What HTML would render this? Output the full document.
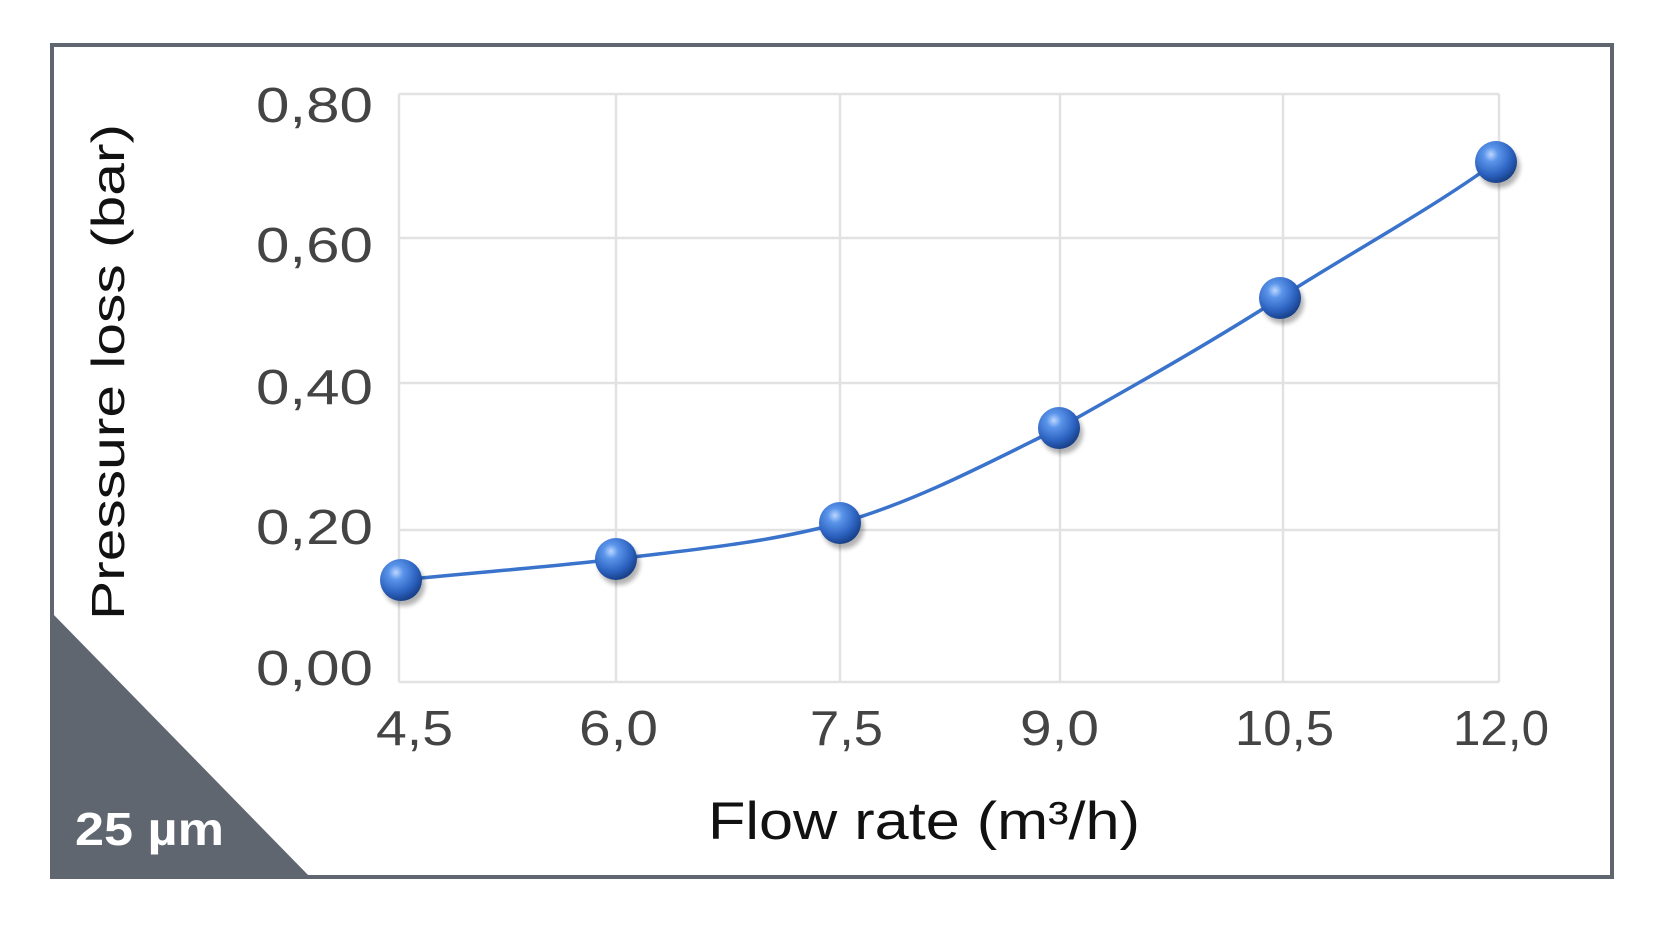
<!DOCTYPE html>
<html><head><meta charset="utf-8"><style>
html,body{margin:0;padding:0;background:#fff;}
svg{display:block}
</style></head><body>
<svg width="1667" height="943" viewBox="0 0 1667 943" xmlns="http://www.w3.org/2000/svg">
<defs>
<radialGradient id="ball" cx="0.38" cy="0.32" r="0.7">
<stop offset="0" stop-color="#bcd6ff"/>
<stop offset="0.25" stop-color="#5b95ea"/>
<stop offset="0.7" stop-color="#2c62c0"/>
<stop offset="1" stop-color="#173f86"/>
</radialGradient>
<filter id="sh" x="-50%" y="-50%" width="200%" height="200%"><feGaussianBlur stdDeviation="2.5"/></filter>
</defs>
<rect x="0" y="0" width="1667" height="943" fill="#fff"/>
<rect x="52" y="45" width="1560" height="832" fill="#fff" stroke="#5f6670" stroke-width="4"/>
<polygon points="52,613 52,877 310,877" fill="#5f6670"/>
<g stroke="#e2e2e2" stroke-width="2.5" fill="none">
<line x1="399" y1="94" x2="1499" y2="94"/>
<line x1="399" y1="238" x2="1499" y2="238"/>
<line x1="399" y1="383" x2="1499" y2="383"/>
<line x1="399" y1="530" x2="1499" y2="530"/>
<line x1="399" y1="682" x2="1499" y2="682"/>
<line x1="399" y1="94" x2="399" y2="682"/>
<line x1="616" y1="94" x2="616" y2="682"/>
<line x1="840" y1="94" x2="840" y2="682"/>
<line x1="1060" y1="94" x2="1060" y2="682"/>
<line x1="1283" y1="94" x2="1283" y2="682"/>
<line x1="1499" y1="94" x2="1499" y2="682"/>
</g>
<g font-family="Liberation Sans, sans-serif" font-size="49" fill="#444" lengthAdjust="spacingAndGlyphs">
<text x="256" y="122" textLength="117" lengthAdjust="spacingAndGlyphs">0,80</text>
<text x="256" y="262" textLength="117" lengthAdjust="spacingAndGlyphs">0,60</text>
<text x="256" y="404" textLength="117" lengthAdjust="spacingAndGlyphs">0,40</text>
<text x="256" y="544" textLength="117" lengthAdjust="spacingAndGlyphs">0,20</text>
<text x="256" y="685" textLength="117" lengthAdjust="spacingAndGlyphs">0,00</text>
<text x="376" y="745" textLength="77" lengthAdjust="spacingAndGlyphs">4,5</text>
<text x="579" y="745" textLength="79" lengthAdjust="spacingAndGlyphs">6,0</text>
<text x="810" y="745" textLength="73" lengthAdjust="spacingAndGlyphs">7,5</text>
<text x="1020" y="745" textLength="79" lengthAdjust="spacingAndGlyphs">9,0</text>
<text x="1235" y="745" textLength="99" lengthAdjust="spacingAndGlyphs">10,5</text>
<text x="1453" y="745" textLength="96" lengthAdjust="spacingAndGlyphs">12,0</text>
</g>
<text transform="translate(124,372) rotate(-90)" font-family="Liberation Sans, sans-serif" font-size="46" fill="#111" text-anchor="middle" textLength="496" lengthAdjust="spacingAndGlyphs">Pressure loss (bar)</text>
<text x="708" y="839" font-family="Liberation Sans, sans-serif" font-size="53" fill="#111" textLength="432" lengthAdjust="spacingAndGlyphs">Flow rate (m³/h)</text>
<text x="75" y="845" font-family="Liberation Sans, sans-serif" font-weight="bold" font-size="46" fill="#fff" textLength="149" lengthAdjust="spacingAndGlyphs">25 µm</text>
<path d="M401,580 C480,572 560,566 616,559 C700,549 770,542 840,523 C915,502 990,462 1059,428 C1130,388 1210,343 1280,298 C1350,253 1430,210 1496,162" fill="none" stroke="#3a73cc" stroke-width="3.5"/>
<g>
<circle cx="404" cy="585" r="21" fill="#000" opacity="0.3" filter="url(#sh)"/>
<circle cx="619" cy="564" r="21" fill="#000" opacity="0.3" filter="url(#sh)"/>
<circle cx="843" cy="528" r="21" fill="#000" opacity="0.3" filter="url(#sh)"/>
<circle cx="1062" cy="433" r="21" fill="#000" opacity="0.3" filter="url(#sh)"/>
<circle cx="1283" cy="303" r="21" fill="#000" opacity="0.3" filter="url(#sh)"/>
<circle cx="1499" cy="167" r="21" fill="#000" opacity="0.3" filter="url(#sh)"/>
<circle cx="401" cy="580" r="21" fill="url(#ball)"/>
<circle cx="616" cy="559" r="21" fill="url(#ball)"/>
<circle cx="840" cy="523" r="21" fill="url(#ball)"/>
<circle cx="1059" cy="428" r="21" fill="url(#ball)"/>
<circle cx="1280" cy="298" r="21" fill="url(#ball)"/>
<circle cx="1496" cy="162" r="21" fill="url(#ball)"/>
</g>
</svg>
</body></html>
